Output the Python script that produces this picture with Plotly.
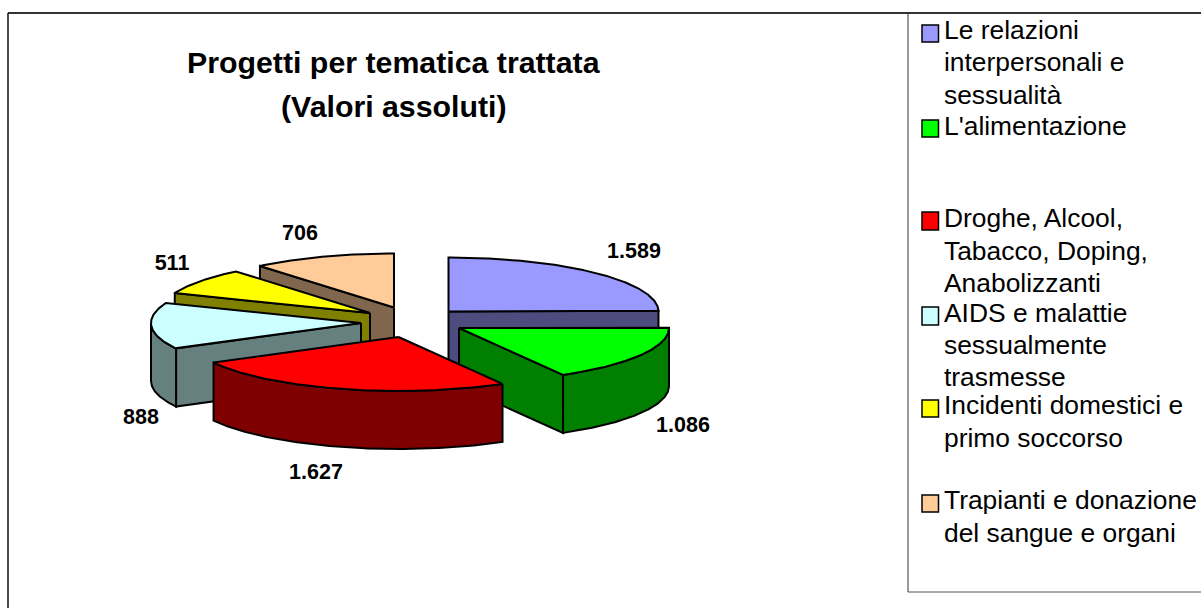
import numpy as np
import plotly.graph_objects as go

# ---- data ----
categories = [
    "Le relazioni interpersonali e sessualità",
    "L'alimentazione",
    "Droghe, Alcool, Tabacco, Doping, Anabolizzanti",
    "AIDS e malattie sessualmente trasmesse",
    "Incidenti domestici e primo soccorso",
    "Trapianti e donazione del sangue e organi",
]
values = [1589, 1086, 1627, 888, 511, 706]
value_labels = ["1.589", "1.086", "1.627", "888", "511", "706"]
title_lines = ["Progetti per tematica trattata", "(Valori assoluti)"]
legend_lines = [
    ["Le relazioni", "interpersonali e", "sessualità"],
    ["L'alimentazione"],
    ["Droghe, Alcool,", "Tabacco, Doping,", "Anabolizzanti"],
    ["AIDS e malattie", "sessualmente", "trasmesse"],
    ["Incidenti domestici e", "primo soccorso"],
    ["Trapianti e donazione", "del sangue e organi"],
]

# ---- style / layout ----
top_colors = ["#9999FF", "#00FF00", "#FF0000", "#CCFFFF", "#FFFF00", "#FFCC99"]
side_colors = ["#4C4C7F", "#007F00", "#7F0000", "#667F7F", "#7F7F00", "#7F664C"]
centers = [(448.5, 311.5), (459, 328), (398.5, 337), (361, 323), (370, 313), (394, 307.5)]
label_pos = [(634, 252.5), (683, 426.5), (316, 473.5), (141, 419), (172, 265), (300, 234.5)]
legend_line_y = [[30, 62, 95], [126], [218, 251, 283], [313, 345, 377], [405, 438], [500, 533]]
swatch_y = [(25, 42), (120, 137), (212, 230), (307, 325), (400, 417), (495, 512)]
draw_order = [5, 4, 3, 0, 1, 2]
RX, RY, DEPTH = 210, 54, 58
FONT = "Liberation Sans"
W, H = 1201, 608

cum = np.concatenate([[0], np.cumsum(values)]) * 360.0 / sum(values)


def pt(c, deg, dy=0.0):
    r = np.radians(deg)
    return c[0] + RX * np.sin(r), c[1] - RY * np.cos(r) + dy


def arc(c, a0, a1, dy=0.0):
    t = np.linspace(a0, a1, max(int(abs(a1 - a0)) * 2, 2))
    return pt(c, t, dy)


def poly(fig, xs, ys, color):
    fig.add_trace(go.Scatter(
        x=list(xs) + [xs[0]], y=list(ys) + [ys[0]], mode="lines", fill="toself",
        fillcolor=color, line=dict(color="black", width=2),
        showlegend=False, hoverinfo="skip"))


fig = go.Figure()
for i in draw_order:
    c, a0, a1 = centers[i], cum[i], cum[i + 1]
    for a, visible in ((a0, a0 > 180), (a1, a1 < 180)):
        if visible:
            ex, ey = pt(c, a)
            poly(fig, [c[0], ex, ex, c[0]], [c[1], ey, ey + DEPTH, c[1] + DEPTH], side_colors[i])
    w0, w1 = max(a0, 90), min(a1, 270)
    if w1 > w0:
        tx, ty = arc(c, w0, w1)
        bx, by = arc(c, w0, w1, DEPTH)
        poly(fig, np.r_[tx, bx[::-1]], np.r_[ty, by[::-1]], side_colors[i])
    ax, ay = arc(c, a0, a1)
    poly(fig, np.r_[c[0], ax], np.r_[c[1], ay], top_colors[i])

fig.add_trace(go.Scatter(
    x=[p[0] for p in label_pos], y=[p[1] for p in label_pos],
    text=[f"<b>{t}</b>" for t in value_labels],
    mode="text", textposition="middle center",
    textfont=dict(family=FONT, size=21.5, color="black"),
    showlegend=False, hoverinfo="skip"))

annotations = []
for line, y in zip(title_lines, (62, 106)):
    annotations.append(dict(x=394, y=y, text=f"<b>{line}</b>", showarrow=False, xanchor="center",
                            yanchor="middle", font=dict(family=FONT, size=30.3, color="black")))
for lines, ys in zip(legend_lines, legend_line_y):
    for line, y in zip(lines, ys):
        annotations.append(dict(x=944, y=y, text=line, showarrow=False, xanchor="left", yanchor="middle",
                                xshift=-2, font=dict(family=FONT, size=26.4, color="black")))

shapes = [
    dict(type="line", x0=8, x1=W, y0=13, y1=13, line=dict(color="#333333", width=2)),
    dict(type="line", x0=8, x1=8, y0=13, y1=H, line=dict(color="#111111", width=1.5)),
    dict(type="line", x0=908, x1=908, y0=13, y1=592, line=dict(color="#333333", width=1)),
    dict(type="line", x0=908, x1=W, y0=592, y1=592, line=dict(color="#555555", width=1)),
]
for color, (y0, y1) in zip(top_colors, swatch_y):
    shapes.append(dict(type="rect", x0=922, x1=938.5, y0=y0, y1=y1, fillcolor=color,
                       line=dict(color="black", width=1.5)))

fig.update_layout(
    width=W, height=H, margin=dict(l=0, r=0, t=0, b=0), autosize=False,
    paper_bgcolor="white", plot_bgcolor="white", showlegend=False,
    xaxis=dict(range=[0, W], visible=False, fixedrange=True),
    yaxis=dict(range=[H, 0], visible=False, fixedrange=True),
    annotations=annotations, shapes=shapes,
)
fig.write_html("out.html", config={"displayModeBar": False},
               post_script="document.body.style.margin='0';document.documentElement.style.overflow='hidden';")
